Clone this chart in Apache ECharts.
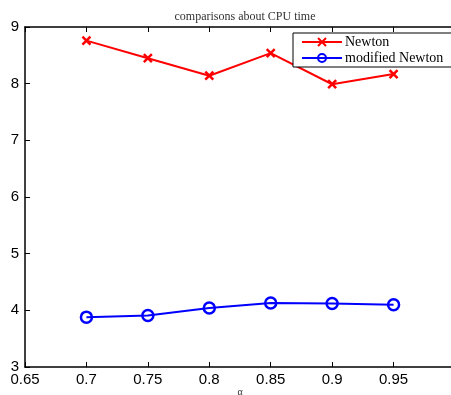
<!DOCTYPE html>
<html><head><meta charset="utf-8">
<script src="https://cdn.jsdelivr.net/npm/echarts@6/dist/echarts.min.js"></script>
<style>html,body{margin:0;padding:0;background:#fff}#c{width:451px;height:395px}</style>
</head><body><div id="c"></div>
<script>
var alphas = [0.7, 0.75, 0.8, 0.85, 0.9, 0.95];
var newton = [8.76, 8.45, 8.14, 8.54, 7.99, 8.17];
var modifiedNewton = [3.88, 3.91, 4.04, 4.13, 4.12, 4.10];
var yTicks = [3, 4, 5, 6, 7, 8, 9];

function pairs(xs, ys){ return xs.map(function(x,i){ return [x, ys[i]]; }); }

var chart = echarts.init(document.getElementById('c'), null, {renderer:'canvas'});
var tickFont = {fontFamily:'Liberation Sans', fontSize:15, color:'#000'};
chart.setOption({
  animation:false,
  backgroundColor:'#fff',
  title:{text:'comparisons about CPU time', left:240, top:6, textAlign:'center',
    textStyle:{fontFamily:'Liberation Serif', fontSize:12, fontWeight:'normal', color:'#333'}},
  grid:{left:25, width:430, top:27, height:340, containLabel:false, outerBoundsMode:'none'},
  legend:{orient:'vertical', left:293, top:33, itemWidth:40, itemHeight:10, itemGap:2,
    padding:[2,40,2,8], borderColor:'#000', borderWidth:1, backgroundColor:'#fff',
    textStyle:{fontFamily:'Liberation Serif', fontSize:14, color:'#000', padding:[0,0,0,-2]},
    data:['Newton','modified Newton']},
  xAxis:[{type:'value', min:0.65, max:1.0, interval:0.05, position:'bottom',
    name:'α', nameLocation:'middle', nameGap:20, nameMoveOverlap:false,
    nameTextStyle:{fontFamily:'Liberation Serif', fontSize:10, color:'#333'},
    axisLine:{lineStyle:{color:'#000', width:1.5}},
    axisTick:{inside:true, length:5, lineStyle:{color:'#000'}},
    axisLabel:Object.assign({margin:5, formatter:function(v){ return Math.abs(v-1)<1e-6 ? '' : String(+v.toFixed(2)); }}, tickFont),
    splitLine:{show:false}},
   {type:'value', min:0.65, max:1.0, interval:0.05, position:'top',
    axisLine:{lineStyle:{color:'#000', width:1.5}},
    axisTick:{inside:true, length:5, lineStyle:{color:'#000'}},
    axisLabel:{show:false}, splitLine:{show:false}}],
  yAxis:{type:'value', min:3, max:9, interval:1,
    axisLine:{show:true, lineStyle:{color:'#000', width:1.5}},
    axisTick:{show:true, inside:true, length:5, lineStyle:{color:'#000'}},
    axisLabel:Object.assign({margin:6, formatter:function(v){ return yTicks.indexOf(v)>=0 ? String(v) : ''; }}, tickFont),
    splitLine:{show:false}},
  series:[
    {name:'Newton', type:'line', data:pairs(alphas, newton),
     symbol:'path://M0,0L10,10M10,0L0,10', symbolSize:8, showAllSymbol:true,
     lineStyle:{color:'#ff0000', width:2},
     itemStyle:{color:'#ff0000', borderColor:'#ff0000', borderWidth:2.5}},
    {name:'modified Newton', type:'line', data:pairs(alphas, modifiedNewton),
     symbol:'circle', symbolSize:11, showAllSymbol:true,
     lineStyle:{color:'#0000ff', width:2},
     itemStyle:{color:'rgba(0,0,0,0)', borderColor:'#0000ff', borderWidth:2.5}}
  ]
});
</script></body></html>
